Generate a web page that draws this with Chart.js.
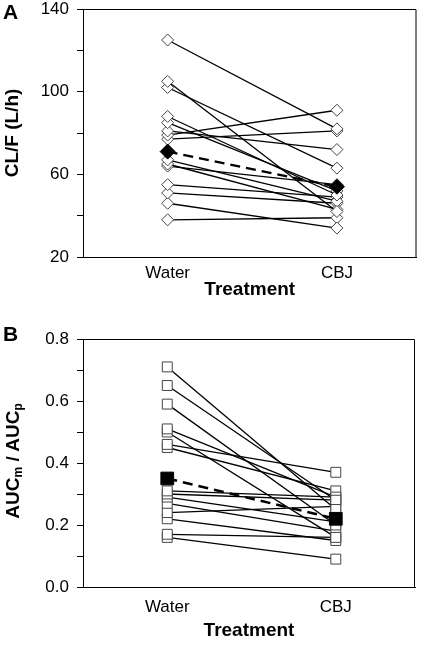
<!DOCTYPE html>
<html>
<head>
<meta charset="utf-8">
<script src="https://cdn.jsdelivr.net/npm/chart.js@4.4.1/dist/chart.umd.min.js"></script>
<style>
  html, body { margin: 0; padding: 0; background: #fff; }
  #wrap { position: relative; width: 425px; height: 651px; font-family: 'Liberation Sans', Arial, sans-serif; }
  .panel { position: absolute; left: 0; width: 425px; }
  .letter { position: absolute; font-weight: bold; font-size: 21px; line-height: 1; }
  #ytitleB { position: absolute; left: 13px; top: 461px; transform: translate(-50%, -50%) rotate(-90deg);
             white-space: nowrap; font-weight: bold; font-size: 19px; line-height: 1; }
  #ytitleB sub { font-size: 12px; vertical-align: -3px; }
</style>
</head>
<body>
<div id="wrap">
  <div class="panel" style="top:0;height:310px"><canvas id="chartA"></canvas></div>
  <div class="panel" style="top:320px;height:331px"><canvas id="chartB"></canvas></div>
  <div class="letter" style="left:3px;top:1px">A</div>
  <div class="letter" style="left:3px;top:323px">B</div>
  <div id="ytitleB">AUC<sub>m</sub> / AUC<sub>p</sub></div>
</div>
<script>
// treatments on the x axis
const categories = ['Water', 'CBJ'];

// panel A: CL/F (L/h), one value per subject
const clWater = [125, 105, 102, 88, 85, 81, 79, 77, 67, 65, 64, 55, 51, 46, 38];
const clCBJ   = [82, 42, 63, 50, 52, 72, 91, 81, 47, 43, 55, 49, 46, 34, 39];
const clMean  = [71, 54];

// panel B: AUCm / AUCp
const aucWater = [0.71, 0.65, 0.59, 0.51, 0.50, 0.46, 0.45, 0.31, 0.30, 0.29, 0.27, 0.24, 0.22, 0.17, 0.16];
const aucCBJ   = [0.25, 0.28, 0.20, 0.29, 0.16, 0.37, 0.31, 0.29, 0.28, 0.21, 0.18, 0.26, 0.15, 0.16, 0.09];
const aucMean  = [0.35, 0.22];

Chart.defaults.font.family = "'Liberation Sans', Arial, sans-serif";
Chart.defaults.color = '#000';

// top + right border of the plot box
const boxPlugin = {
    id: 'box',
    afterDraw(chart) {
        const a = chart.chartArea, ctx = chart.ctx;
        ctx.save();
        ctx.strokeStyle = '#000';
        ctx.lineWidth = 1;
        ctx.beginPath();
        ctx.moveTo(a.left, a.top + 0.5);
        ctx.lineTo(a.right - 0.5, a.top + 0.5);
        ctx.lineTo(a.right - 0.5, a.bottom);
        ctx.stroke();
        ctx.restore();
    }
};

function buildDatasets(water, cbj, mean, style, r, meanR) {
    const sets = [{
        data: categories.map((c, i) => ({ x: i + 1, y: mean[i] })),
        borderColor: '#000', borderWidth: 2.5, borderDash: [10, 6],
        pointStyle: style, pointRadius: meanR, pointBackgroundColor: '#000',
        pointBorderColor: '#000', pointBorderWidth: 1, order: 0
    }];
    water.forEach((w, i) => {
        sets.push({
            data: [{ x: 1, y: w }, { x: 2, y: cbj[i] }],
            borderColor: '#000', borderWidth: 1.3,
            pointStyle: style, pointRadius: r, pointBackgroundColor: '#fff',
            pointBorderColor: '#444', pointBorderWidth: 1, order: 1
        });
    });
    return sets;
}

function makeChart(id, datasets, y, pad) {
    return new Chart(document.getElementById(id), {
        type: 'line',
        data: { datasets: datasets },
        options: {
            responsive: true, maintainAspectRatio: false, animation: false,
            layout: { padding: { top: pad.top, right: 7, left: 0, bottom: 0 } },
            plugins: { legend: { display: false }, tooltip: { enabled: false } },
            scales: {
                x: {
                    type: 'linear', min: 0.5, max: 2.47,
                    afterBuildTicks: s => { s.ticks = [{ value: 1 }, { value: 2 }]; },
                    afterFit: s => { s.height = pad.xh; s.paddingLeft = 0; s.paddingRight = 0; },
                    ticks: { callback: v => categories[v - 1] || '', font: { size: 17 }, padding: pad.tick, autoSkip: false, maxRotation: 0 },
                    grid: { display: false, drawTicks: false },
                    border: { display: true, color: '#000', width: 1 },
                    title: { display: true, text: 'Treatment', font: { size: 19, weight: 'bold' }, padding: { top: 0, bottom: 8.6 } }
                },
                y: {
                    min: y.min, max: y.max,
                    afterFit: s => { s.width = 83; s.paddingTop = 0; s.paddingBottom = 0; },
                    ticks: { stepSize: y.step, callback: y.label, font: { size: 17 }, padding: 8, autoSkip: false },
                    grid: { display: true, drawOnChartArea: false, drawTicks: true, tickLength: 6, color: '#000' },
                    border: { display: true, color: '#000', width: 1 },
                    title: { display: y.title !== '', text: y.title, font: { size: 19, weight: 'bold' }, padding: { top: 1, bottom: 0 } }
                }
            }
        },
        plugins: [boxPlugin]
    });
}

makeChart('chartA', buildDatasets(clWater, clCBJ, clMean, 'rectRot', 6, 7.5),
    { min: 20, max: 140, step: 20, title: 'CL/F (L/h)', label: v => (v % 40 === 20 ? v : '') },
    { top: 9, xh: 53, tick: 6 });

makeChart('chartB', buildDatasets(aucWater, aucCBJ, aucMean, 'rect', 7, 9),
    { min: 0, max: 0.8, step: 0.1, title: '', label: v => (Math.round(v * 10) % 2 === 0 ? v.toFixed(1) : '') },
    { top: 19, xh: 64, tick: 10 });
</script>
</body>
</html>
